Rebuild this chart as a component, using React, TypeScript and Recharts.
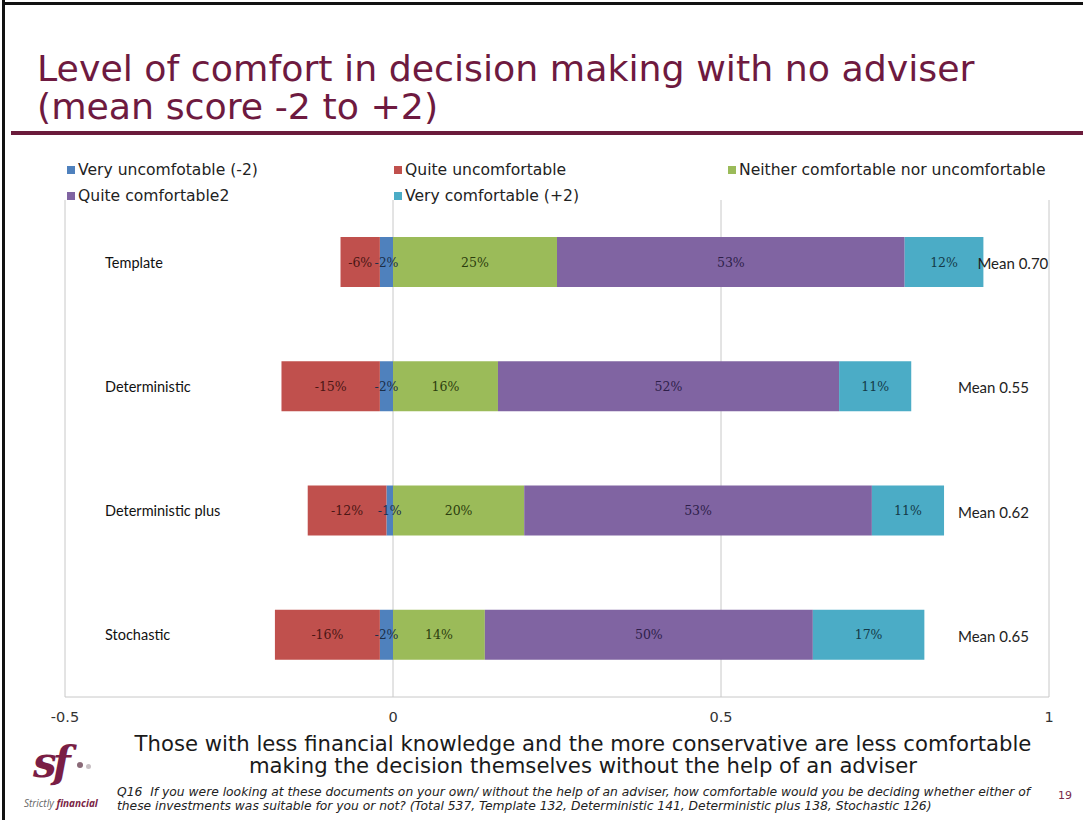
import { BarChart, Bar, XAxis, YAxis, CartesianGrid, LabelList } from 'recharts';

// survey answers, percent of respondents
const categories = ['Template', 'Deterministic', 'Deterministic plus', 'Stochastic'];
const veryUncomfortable = [-2, -2, -1, -2];
const quiteUncomfortable = [-6, -15, -12, -16];
const neither = [25, 16, 20, 14];
const quiteComfortable = [53, 52, 53, 50];
const veryComfortable = [12, 11, 11, 17];
const means = ['0.70', '0.55', '0.62', '0.65'];
const xTicks = [-0.5, 0, 0.5, 1];

const SERIES = [
    { key: 'veryUnc', name: 'Very uncomfotable (-2)', color: '#4F81BD', text: '#1c2f4a', values: veryUncomfortable },
    { key: 'quiteUnc', name: 'Quite uncomfortable', color: '#C0504D', text: '#4a1614', values: quiteUncomfortable },
    { key: 'neither', name: 'Neither comfortable nor uncomfortable', color: '#9BBB59', text: '#2c3d0e', values: neither },
    { key: 'quiteComf', name: 'Quite comfortable2', color: '#8064A2', text: '#2e1f4a', values: quiteComfortable },
    { key: 'veryComf', name: 'Very comfortable (+2)', color: '#4BACC6', text: '#143a48', values: veryComfortable },
];

const data = categories.map((name, i) => {
    const row: Record<string, any> = { name, mean: means[i] };
    SERIES.forEach(s => { row[s.key] = s.values[i] / 100; });
    return row;
});

const TITLE = '#6E1A40';
const SANS = "'DejaVu Sans', sans-serif";

const makeValueLabel = (fill: string) => (props: any) => {
    const { x, y, width, height, value } = props;
    return (
        <text
            x={x + width / 2}
            y={y + height / 2}
            textAnchor="middle"
            dominantBaseline="central"
            fontFamily="'DejaVu Serif', serif"
            fontSize={12.5}
            fill={fill}
        >
            {`${Math.round(value * 100)}%`}
        </text>
    );
};

// mean score sits to the right of the bar, pushed out when the bar is long
const renderMean = (props: any) => {
    const { x, y, width, height, value } = props;
    const tx = Math.max(958, x + width - 6);
    return (
        <text x={tx} y={y + height / 2 + 1} dominantBaseline="central" fontFamily="Lato, sans-serif" fontSize={15} fill="#222">
            {`Mean ${value}`}
        </text>
    );
};

const CategoryTick = (props: any) => {
    const { y, payload } = props;
    return (
        <text x={105} y={y} dominantBaseline="central" fontFamily="Lato, sans-serif" fontSize={14.5} fill="#111">
            {payload.value}
        </text>
    );
};

export default function App() {
    const legendCols = [67, 394, 728];
    return (
        <div style={{ position: 'absolute', left: 0, top: 0, width: 1083, height: 820, background: '#fff', overflow: 'hidden', fontFamily: SANS }}>
            {/* slide frame */}
            <div style={{ position: 'absolute', left: 2, top: 0, width: 3, height: 820, background: '#111' }} />
            <div style={{ position: 'absolute', left: 2, top: 2, width: 1081, height: 3, background: '#111' }} />

            {/* title */}
            <div style={{ position: 'absolute', left: 37, top: 50, fontSize: 36.3, lineHeight: '38px', color: TITLE, whiteSpace: 'nowrap' }}>
                Level of comfort in decision making with no adviser<br />(mean score -2 to +2)
            </div>
            <div style={{ position: 'absolute', left: 11, top: 131, width: 1072, height: 4, background: '#6B1B3B' }} />

            {/* legend */}
            {SERIES.map((s, i) => (
                <div key={s.key} style={{ position: 'absolute', left: legendCols[i % 3], top: i < 3 ? 160 : 186, fontSize: 15.6, lineHeight: '20px', color: '#222', whiteSpace: 'nowrap', display: 'flex', alignItems: 'center' }}>
                    <span style={{ display: 'inline-block', width: 8, height: 8, background: s.color, marginRight: 3 }} />
                    {s.name}
                </div>
            ))}

            <div style={{ position: 'absolute', left: 0, top: 150 }}>
                <BarChart
                    width={1083}
                    height={590}
                    data={data}
                    layout="vertical"
                    stackOffset="sign"
                    barSize={50}
                    margin={{ top: 50, right: 34, left: 25, bottom: 13 }}
                >
                    <CartesianGrid horizontal={false} vertical={true} stroke="#C8C8C8" />
                    <XAxis
                        type="number"
                        domain={[-0.5, 1]}
                        ticks={xTicks}
                        tickFormatter={(v: number) => String(v)}
                        axisLine={{ stroke: '#C8C8C8' }}
                        tickLine={false}
                        tickMargin={9}
                        height={30}
                        tick={{ fontFamily: SANS, fontSize: 14.5, fill: '#333' }}
                    />
                    <YAxis type="category" dataKey="name" width={40} axisLine={false} tickLine={false} tick={CategoryTick} />
                    {SERIES.map(s => (
                        <Bar key={s.key} dataKey={s.key} name={s.name} stackId="a" fill={s.color} isAnimationActive={false}>
                            <LabelList dataKey={s.key} content={makeValueLabel(s.text)} />
                            {s.key === 'veryComf' && <LabelList dataKey="mean" content={renderMean} />}
                        </Bar>
                    ))}
                </BarChart>
            </div>

            {/* takeaway */}
            <div style={{ position: 'absolute', left: 0, width: 1166, top: 733, textAlign: 'center', fontSize: 21.2, lineHeight: '22px', color: '#1a1a1a', whiteSpace: 'nowrap' }}>
                Those with less financial knowledge and the more conservative are less comfortable<br />
                making the decision themselves without the help of an adviser
            </div>

            {/* logo */}
            <div style={{ position: 'absolute', left: 33, top: 738, fontFamily: "'DejaVu Serif', serif", fontStyle: 'italic', fontWeight: 700, fontSize: 42, color: '#7A1E45', letterSpacing: -4 }}>sf</div>
            <div style={{ position: 'absolute', left: 77, top: 762, width: 6, height: 6, borderRadius: 3, background: '#8a6a78' }} />
            <div style={{ position: 'absolute', left: 86, top: 764, width: 5, height: 5, borderRadius: 3, background: '#c8c0c4' }} />
            <div style={{ position: 'absolute', left: 24, top: 796, fontFamily: "'Open Sans', sans-serif", fontSize: 10, fontStyle: 'italic', color: '#666', whiteSpace: 'nowrap' }}>
                Strictly <span style={{ color: '#7A1E45', fontWeight: 700 }}>financial</span>
            </div>

            {/* footnote */}
            <div style={{ position: 'absolute', left: 117, top: 785, fontSize: 12.3, lineHeight: '14px', fontStyle: 'italic', color: '#222', whiteSpace: 'nowrap' }}>
                Q16&nbsp; If you were looking at these documents on your own/ without the help of an adviser, how comfortable would you be deciding whether either of<br />
                these investments was suitable for you or not? (Total 537, Template 132, Deterministic 141, Deterministic plus 138, Stochastic 126)
            </div>
            <div style={{ position: 'absolute', left: 1058, top: 789, fontSize: 11, color: '#7A2A4B' }}>19</div>
        </div>
    );
}
